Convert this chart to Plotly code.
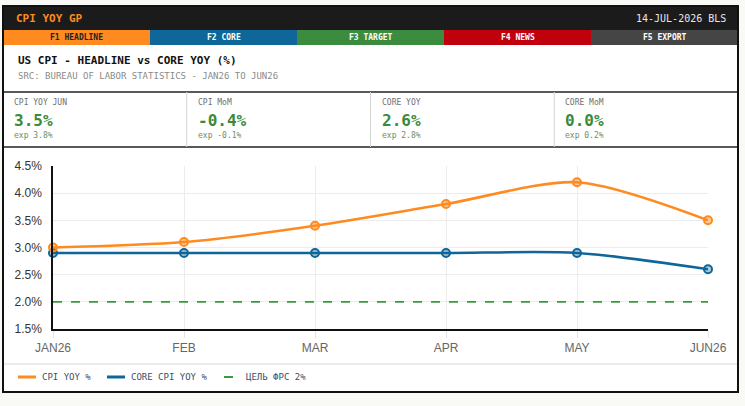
import plotly.graph_objects as go

# ---- data ----
months = ["JAN26", "FEB", "MAR", "APR", "MAY", "JUN26"]
headline_yoy = [3.0, 3.1, 3.4, 3.8, 4.2, 3.5]
core_yoy = [2.9, 2.9, 2.9, 2.9, 2.9, 2.6]
fed_target = [2.0, 2.0, 2.0, 2.0, 2.0, 2.0]

tab_labels = ["F1 HEADLINE", "F2 CORE", "F3 TARGET", "F4 NEWS", "F5 EXPORT"]
kpi_labels = ["CPI YOY JUN", "CPI MoM", "CORE YOY", "CORE MoM"]
kpi_values = ["3.5%", "-0.4%", "2.6%", "0.0%"]
kpi_expected = ["exp 3.8%", "exp -0.1%", "exp 2.8%", "exp 0.2%"]
legend_labels = ["CPI YOY %", "CORE CPI YOY %", "ЦЕЛЬ ФРС 2%"]

# ---- layout geometry (pixels) ----
W, H = 745, 406
L, R, T, B = 53, 708, 166, 329


def px(x):
    return (x - L) / (R - L)


def py(y):
    return (B - y) / (B - T)


ORANGE = "#ff8a1f"
BLUE = "#0e6798"
GREEN = "#3b9a3b"
MONO = "DejaVu Sans Mono"
SANS = "Liberation Sans, Arial"

fig = go.Figure()

fig.add_trace(go.Scatter(
    x=months, y=fed_target, mode="lines", name=legend_labels[2],
    line=dict(color=GREEN, width=1.6, dash="dash"), hoverinfo="skip"))
fig.add_trace(go.Scatter(
    x=months, y=core_yoy, mode="lines+markers", name=legend_labels[1],
    line=dict(color=BLUE, width=2.6, shape="spline", smoothing=0.8),
    marker=dict(size=8, color="rgba(14,103,152,0.35)", line=dict(color=BLUE, width=2)),
    cliponaxis=False))
fig.add_trace(go.Scatter(
    x=months, y=headline_yoy, mode="lines+markers", name=legend_labels[0],
    line=dict(color=ORANGE, width=2.6, shape="spline", smoothing=0.8),
    marker=dict(size=8, color="rgba(255,138,31,0.45)", line=dict(color=ORANGE, width=2)),
    cliponaxis=False))

shapes = []
annotations = []


def rect(x0, y0, x1, y1, fill=None, line_color=None, lw=0, layer="below"):
    shapes.append(dict(type="rect", xref="paper", yref="paper",
                       x0=px(x0), x1=px(x1), y0=py(y0), y1=py(y1),
                       fillcolor=fill if fill else "rgba(0,0,0,0)",
                       line=dict(color=line_color if line_color else "rgba(0,0,0,0)", width=lw),
                       layer=layer))


def hline(x0, x1, y, color, lw=1, dash="solid", layer="below"):
    shapes.append(dict(type="line", xref="paper", yref="paper",
                       x0=px(x0), x1=px(x1), y0=py(y), y1=py(y),
                       line=dict(color=color, width=lw, dash=dash), layer=layer))


def vline(x, y0, y1, color, lw=1, layer="below"):
    shapes.append(dict(type="line", xref="paper", yref="paper",
                       x0=px(x), x1=px(x), y0=py(y0), y1=py(y1),
                       line=dict(color=color, width=lw), layer=layer))


def text(x, y, s, size, color, bold=False, family=MONO, anchor="left"):
    if bold:
        s = "<b>" + s + "</b>"
    annotations.append(dict(xref="paper", yref="paper", x=px(x), y=py(y),
                            text=s, showarrow=False, xanchor=anchor, yanchor="middle",
                            font=dict(family=family, size=size, color=color),
                            borderpad=0))


# panel
rect(3, 6, 738, 392, fill="white")
# header bar
rect(3, 6, 738, 30, fill="#1b1b1b")
text(15, 18, "CPI YOY GP", 11, ORANGE, bold=True)
text(727, 18, "14-JUL-2026 BLS", 10, "#e8e8e8", anchor="right")

# tabs
tab_fill = [ORANGE, BLUE, "#3c8c40", "#c0000c", "#454545"]
tab_text = ["#222222", "white", "white", "white", "white"]
tw = (738 - 3) / 5
for i, lab in enumerate(tab_labels):
    x0 = 3 + tw * i
    rect(x0, 30, x0 + tw, 45, fill=tab_fill[i])
    text(x0 + tw / 2, 37.5, lab, 8, tab_text[i], bold=True, anchor="center")

# title
text(17, 61, "US CPI - HEADLINE vs CORE YOY (%)", 11, "#111111", bold=True)
text(17, 76, "SRC: BUREAU OF LABOR STATISTICS - JAN26 TO JUN26", 9, "#8a8a8a")

# KPI row
hline(3, 738, 92, "#222222", 1.5)
hline(3, 738, 147, "#222222", 1.5)
kw = (738 - 3) / 4
for i in range(4):
    x0 = 3 + kw * i
    if i > 0:
        vline(x0, 92, 147, "#d4d4d4", 1)
    text(x0 + 10, 102, kpi_labels[i], 8, "#6e6e6e")
    text(x0 + 10, 120, kpi_values[i], 16, "#3a8a3a", bold=True)
    text(x0 + 10, 135, kpi_expected[i], 8, "#6d8f66")

# legend
hline(3, 738, 364, "#d8d8d8", 1)
hline(18, 36, 377, ORANGE, 3)
text(41, 377, legend_labels[0], 9, "#3c4f66")
hline(107, 125, 377, BLUE, 3)
text(130, 377, legend_labels[1], 9, "#3c4f66")
hline(224, 241, 377, GREEN, 2, dash="dash")
text(245, 377, legend_labels[2], 9, "#3c4f66")

# panel border on top
rect(3, 6, 738, 392, line_color="#111111", lw=2, layer="above")

fig.update_layout(
    width=W, height=H,
    margin=dict(l=L, r=W - R, t=T, b=H - B),
    paper_bgcolor="#f9f9f6",
    plot_bgcolor="white",
    showlegend=False,
    shapes=shapes,
    annotations=annotations,
    hovermode=False,
)
fig.update_xaxes(
    type="category", range=[0, len(months) - 1],
    showgrid=True, gridcolor="#ececec", gridwidth=1,
    showline=True, linecolor="#111111", linewidth=1.5,
    ticks="outside", ticklen=7, tickcolor="#e4e4e4",
    tickfont=dict(family=SANS, size=12, color="#666666"),
    zeroline=False,
)
fig.update_yaxes(
    range=[1.5, 4.5], dtick=0.5, tick0=1.5,
    tickformat=".1f", ticksuffix="%",
    showgrid=True, gridcolor="#ececec", gridwidth=1,
    showline=True, linecolor="#111111", linewidth=1.5,
    ticks="", ticklabelstandoff=7,
    tickfont=dict(family=SANS, size=12, color="#333333"),
    zeroline=False,
)

fig.write_html("out.html")
